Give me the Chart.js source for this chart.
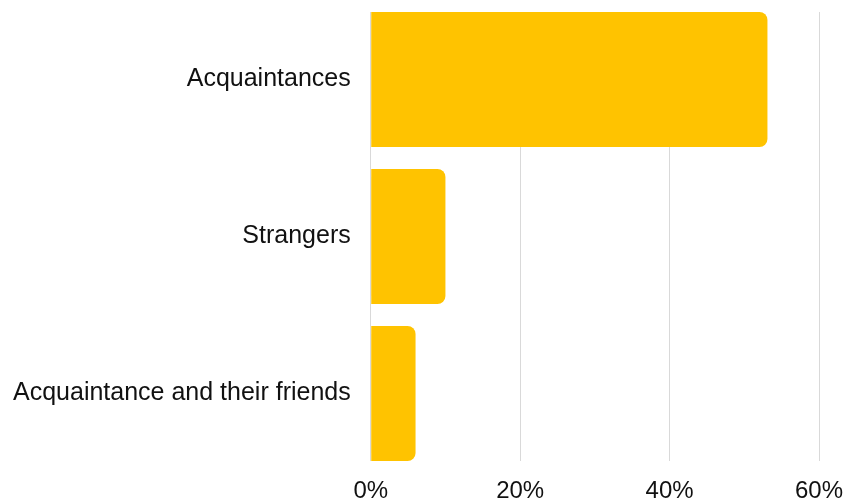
<!DOCTYPE html>
<html>
<head>
<meta charset="utf-8">
<script src="https://cdn.jsdelivr.net/npm/chart.js@4"></script>
<style>
  html, body { margin: 0; padding: 0; background: #fff; }
  #wrap { width: 860px; height: 501px; }
</style>
</head>
<body>
<div id="wrap"><canvas id="myChart"></canvas></div>
<script>
var categories = ["Acquaintances", "Strangers", "Acquaintance and their friends"];
var shares = [53.1, 10.0, 6.0];
var xTicks = [0, 20, 40, 60];

var points = shares.map(function (v, i) { return {x: v, y: i}; });

new Chart("myChart", {
  type: "bar",
  data: {
    datasets: [{
      data: points,
      backgroundColor: "#ffc300",
      borderRadius: {topRight: 8, bottomRight: 8},
      borderSkipped: "start",
      categoryPercentage: 1,
      barPercentage: 0.86
    }]
  },
  options: {
    indexAxis: "y",
    responsive: true,
    maintainAspectRatio: false,
    animation: false,
    devicePixelRatio: 1,
    layout: {padding: {top: 12, right: 41, left: 13, bottom: 0}},
    plugins: {legend: {display: false}, tooltip: {enabled: false}},
    scales: {
      y: {
        type: "linear",
        reverse: true,
        offset: false,
        min: -0.43,
        max: 2.43,
        afterBuildTicks: function (s) {
          s.ticks = categories.map(function (c, i) { return {value: i}; });
        },
        afterFit: function (s) {
          // chart.js counts the tick padding twice for the axis width
          s.width = s.width - s.options.ticks.padding;
          s.paddingTop = 0;
          s.paddingBottom = 0;
        },
        ticks: {
          callback: function (v) { return categories[v]; },
          font: {family: "Liberation Sans", size: 25},
          color: "#111",
          padding: 20
        },
        grid: {display: false, drawTicks: false, offset: false},
        border: {display: false}
      },
      x: {
        min: xTicks[0],
        max: xTicks[xTicks.length - 1],
        afterBuildTicks: function (s) {
          s.ticks = xTicks.map(function (v) { return {value: v}; });
        },
        afterFit: function (s) {
          s.paddingLeft = 0;
          s.paddingRight = 0;
          s.height = 40;
        },
        ticks: {
          callback: function (v) { return v + "%"; },
          font: {family: "Liberation Sans", size: 24},
          color: "#111",
          padding: 16
        },
        grid: {color: "#d9d9d9", drawTicks: false},
        border: {display: false}
      }
    }
  }
});
</script>
</body>
</html>
